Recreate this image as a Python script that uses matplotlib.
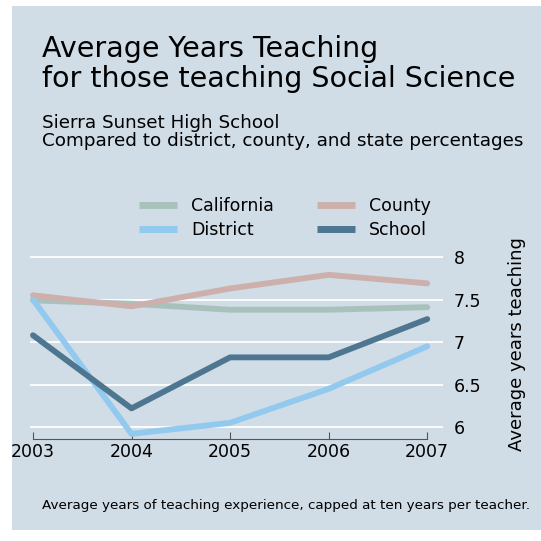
import matplotlib.pyplot as plt
from matplotlib.patches import Rectangle

# datos
years = [2003, 2004, 2005, 2006, 2007]
california = [7.49, 7.45, 7.38, 7.38, 7.41]
county = [7.55, 7.42, 7.63, 7.79, 7.69]
district = [7.50, 5.92, 6.05, 6.45, 6.95]
school = [7.08, 6.22, 6.82, 6.82, 7.27]

bg = "#d0dce6"
W = 541.0

fig = plt.figure(figsize=(5.41, 5.41), dpi=100, facecolor="white")
# panel de fondo
fig.patches.append(Rectangle((12 / W, 1 - 530 / W), (541 - 12) / W, (530 - 6) / W,
                             transform=fig.transFigure, facecolor=bg, edgecolor="none", zorder=-10))

ymax = 8.1
ymin = 5.86
ax = fig.add_axes([30 / W, 1 - 439 / W, (443 - 30) / W, (439 - 248.5) / W])
ax.set_facecolor(bg)
ax.set_xlim(2002.97, 2007.16)
ax.set_ylim(ymin, ymax)

lw = 4.2
ax.plot(years, california, color="#a8c2bb", lw=lw, solid_capstyle="round", label="California")
ax.plot(years, county, color="#cdb0ab", lw=lw, solid_capstyle="round", label="County")
ax.plot(years, district, color="#92c9ee", lw=lw, solid_capstyle="round", label="District")
ax.plot(years, school, color="#4e7690", lw=lw, solid_capstyle="round", label="School")

ax.set_yticks([6, 6.5, 7, 7.5, 8])
ax.set_yticklabels(["6", "6.5", "7", "7.5", "8"])
ax.yaxis.tick_right()
ax.yaxis.set_label_position("right")
ax.grid(axis="y", color="white", lw=1.3, zorder=0)
ax.set_axisbelow(True)
ax.tick_params(axis="y", length=0, labelsize=12.5, pad=8)
ax.set_ylabel("Average years teaching", fontsize=13, labelpad=19)

ax.set_xticks(years)
ax.tick_params(axis="x", direction="in", length=5, color="#555555", labelsize=12.5, pad=3)
for s in ["top", "left", "right"]:
    ax.spines[s].set_visible(False)
ax.spines["bottom"].set_bounds(2003, 2007)
ax.spines["bottom"].set_color("#555555")

h, l = ax.get_legend_handles_labels()
order = [0, 2, 1, 3]
leg = fig.legend([h[i] for i in order], [l[i] for i in order], ncol=2,
                 loc="center", bbox_to_anchor=(285 / W, 1 - 218 / W), frameon=False,
                 fontsize=12.5, handlelength=2.2, columnspacing=2.5, labelspacing=0.35)
for line in leg.get_lines():
    line.set_solid_capstyle("butt")
    line.set_linewidth(5)

fig.text(42 / W, 1 - 64 / W, "Average Years Teaching\nfor those teaching Social Science",
         fontsize=20.5, va="center", ha="left", linespacing=1.12)
fig.text(42 / W, 1 - 132 / W, "Sierra Sunset High School\nCompared to district, county, and state percentages",
         fontsize=13.2, va="center", ha="left", linespacing=1.0)
fig.text(42 / W, 1 - 505 / W, "Average years of teaching experience, capped at ten years per teacher.",
         fontsize=9.7, va="center", ha="left")

plt.savefig("out.png", dpi=100, facecolor="white")
plt.close()
